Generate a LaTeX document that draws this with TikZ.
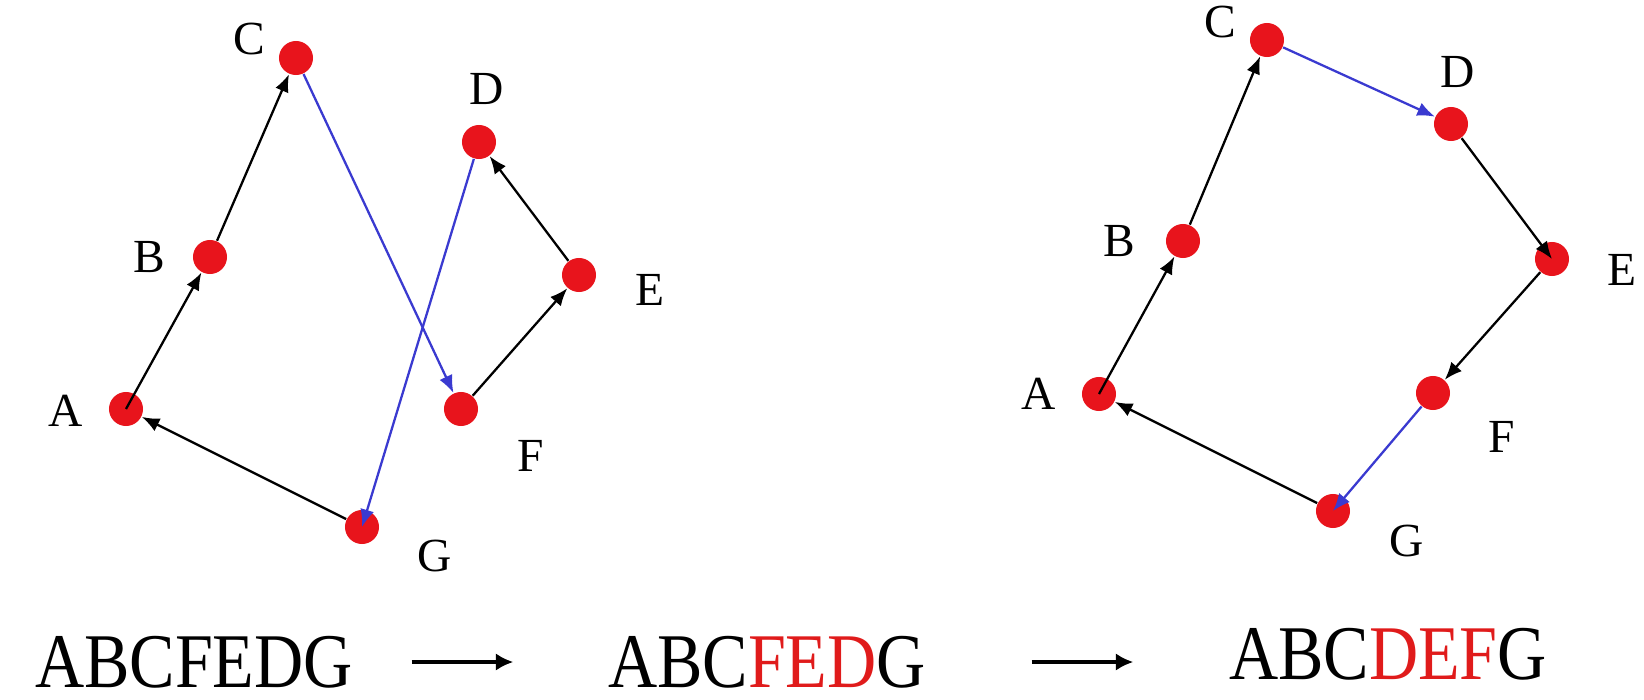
\documentclass[tikz,border=0pt]{standalone}
\usepackage{fontspec}
\setmainfont{Liberation Serif}
\usepackage{xcolor}
\definecolor{dotred}{HTML}{E8141C}
\definecolor{pathblue}{HTML}{3A3AD0}
\definecolor{swapred}{HTML}{E01B1B}
\usetikzlibrary{arrows.meta}

\begin{document}
\begin{tikzpicture}[x=0.01cm,y=-0.01cm,
  dot/.style={circle,fill=dotred,minimum size=0.34cm,inner sep=0pt},
  lbl/.style={inner sep=0pt,font=\fontsize{13.5}{15}\selectfont},
  edge/.style={-{Latex[length=5pt,width=4pt]},line width=0.65pt,black},
  swap/.style={edge,pathblue},
  seq/.style={inner sep=0pt,font=\fontsize{22}{26}\selectfont},
  bigarrow/.style={-{Latex[length=5pt,width=5pt]},line width=1.1pt}]
  \useasboundingbox (0,0) rectangle (1644,700);
  % left tour
  \foreach \n/\x/\y in {A/126/409,B/210/257,C/296/58,D/479/142,E/579/275,F/461/409,G/362/527}
    \node[dot] (L\n) at (\x,\y) {};
  \foreach \n/\x/\y in {A/66/411,B/149/257,C/249/39,D/487/89,E/650/290,F/531/456,G/435/556}
    \node[lbl] (Ll\n) at (\x,\y) {\n};
  \draw[edge] (LA.center) -- (LB);
  \draw[edge] (LB) -- (LC);
  \draw[swap] (LC) -- (LF);
  \draw[edge] (LF) -- (LE);
  \draw[edge] (LE) -- (LD);
  \draw[swap] (LD) -- (LG.center);
  \draw[edge] (LG) -- (LA);
  % right tour
  \foreach \n/\x/\y in {A/1099/394,B/1183/241,C/1267/40,D/1451/124,E/1552/259,F/1433/393,G/1333/511}
    \node[dot] (R\n) at (\x,\y) {};
  \foreach \n/\x/\y in {A/1039/394,B/1119/241,C/1220/22,D/1458/72,E/1622/270,F/1502/437,G/1407/541}
    \node[lbl] (Rl\n) at (\x,\y) {\n};
  \draw[edge] (RA.center) -- (RB);
  \draw[edge] (RB) -- (RC);
  \draw[swap] (RC) -- (RD);
  \draw[edge] (RD) -- (RE.center);
  \draw[edge] (RE) -- (RF);
  \draw[swap] (RF) -- (RG.center);
  \draw[edge] (RG) -- (RA);
  % sequences
  \node[seq] (s1) at (194,662) {\scalebox{0.88}[1]{ABCFEDG}};
  \node[seq] (s2) at (767,662) {\scalebox{0.88}[1]{ABC\textcolor{swapred}{FED}G}};
  \node[seq] (s3) at (1388,654) {\scalebox{0.88}[1]{ABC\textcolor{swapred}{DEF}G}};
  \draw[bigarrow] ([xshift=0.58cm]s1.east) -- ([xshift=-0.94cm]s2.west);
  \draw[bigarrow] ([xshift=1.05cm]s2.east) -- ([xshift=-0.95cm]s3.west |- s2.east);
\end{tikzpicture}
\end{document}
